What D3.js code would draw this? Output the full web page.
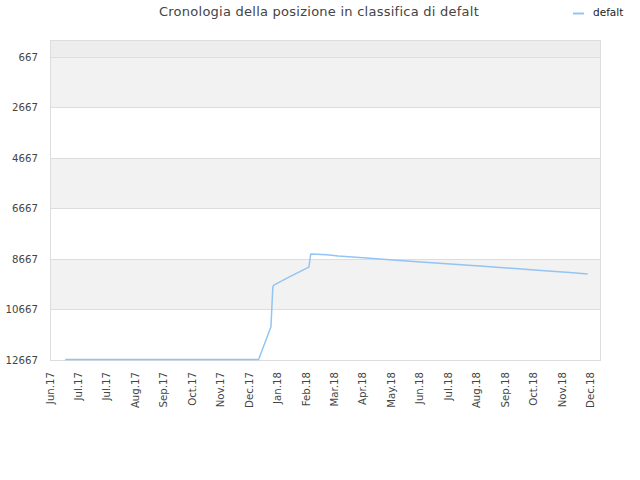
<!DOCTYPE html>
<html>
<head>
<meta charset="utf-8">
<script src="https://cdn.jsdelivr.net/npm/d3@7"></script>
<style>
  body { margin: 0; background: #fff; }
  svg { font-family: "DejaVu Sans", sans-serif; }
</style>
</head>
<body>
<svg id="chart" width="640" height="480"></svg>
<script>
// series: dates and rank positions
const dates = ['2017-06-17', '2018-01-07', '2018-01-20', '2018-01-22', '2018-01-23',
               '2018-02-10', '2018-03-01', '2018-03-03', '2018-03-20', '2018-04-01',
               '2018-05-01', '2018-06-01', '2018-07-01', '2018-08-01', '2018-09-01',
               '2018-10-01', '2018-11-01', '2018-12-01', '2018-12-20'];
const ranks = [12650, 12650, 11350, 9770, 9700,
               9350, 8990, 8470, 8500, 8550,
               8630, 8715, 8795, 8880, 8960,
               9040, 9125, 9205, 9260];

const yTicks = [667, 2667, 4667, 6667, 8667, 10667, 12667];
const xTickDates = ['2017-06-01', '2017-07-01', '2017-07-31', '2017-08-30', '2017-09-29',
                    '2017-10-29', '2017-11-28', '2017-12-28', '2018-01-27', '2018-02-26',
                    '2018-03-28', '2018-04-27', '2018-05-27', '2018-06-26', '2018-07-26',
                    '2018-08-25', '2018-09-24', '2018-10-24', '2018-11-23', '2018-12-23'];
const xTickLabels = ['Jun.17', 'Jul.17', 'Jul.17', 'Aug.17', 'Sep.17', 'Oct.17', 'Nov.17',
                     'Dec.17', 'Jan.18', 'Feb.18', 'Mar.18', 'Apr.18', 'May.18', 'Jun.18',
                     'Jul.18', 'Aug.18', 'Sep.18', 'Oct.18', 'Nov.18', 'Dec.18'];
const seriesName = 'defalt';
const title = 'Cronologia della posizione in classifica di defalt';

const parse = d3.utcParse('%Y-%m-%d');
let svg = d3.select('#chart');

let plot = { left: 50, right: 600, top: 40, bottom: 360 };

let x = d3.scaleUtc()
          .domain([parse('2017-06-01'), parse('2019-01-02')])
          .range([plot.left, plot.right]);

let y = d3.scaleLinear()
          .domain([0, 12667])
          .range([plot.top, plot.bottom]);

// background bands
let bands = [[0, 667, '#ededed']];
for (let i = 0; i < yTicks.length - 1; i++) {
    bands.push([yTicks[i], yTicks[i + 1], i % 2 === 0 ? '#f2f2f2' : '#ffffff']);
}

svg.append('g')
   .selectAll('rect')
   .data(bands)
   .enter()
   .append('rect')
   .attr('x', plot.left)
   .attr('width', plot.right - plot.left)
   .attr('y', d => y(d[0]))
   .attr('height', d => y(d[1]) - y(d[0]))
   .attr('fill', d => d[2]);

// horizontal grid lines
svg.append('g')
   .selectAll('line')
   .data(yTicks)
   .enter()
   .append('line')
   .attr('x1', plot.left)
   .attr('x2', plot.right)
   .attr('y1', d => Math.round(y(d)) + 0.5)
   .attr('y2', d => Math.round(y(d)) + 0.5)
   .attr('stroke', '#dddddd')
   .attr('stroke-width', 1);

// frame
svg.append('rect')
   .attr('x', plot.left + 0.5)
   .attr('y', plot.top + 0.5)
   .attr('width', plot.right - plot.left)
   .attr('height', plot.bottom - plot.top)
   .attr('fill', 'none')
   .attr('stroke', '#dddddd');

// y labels
svg.append('g')
   .selectAll('text')
   .data(yTicks)
   .enter()
   .append('text')
   .attr('x', 38)
   .attr('y', d => y(d) + 4)
   .attr('text-anchor', 'end')
   .attr('font-size', 10.2)
   .attr('fill', '#444')
   .text(d => d);

// x labels
svg.append('g')
   .selectAll('text')
   .data(xTickDates)
   .enter()
   .append('text')
   .attr('transform', d => `translate(${x(parse(d)) + 3.5},${plot.bottom + 12}) rotate(-90)`)
   .attr('text-anchor', 'end')
   .attr('font-size', 10.2)
   .attr('fill', '#444')
   .text((d, i) => xTickLabels[i]);

// series line
let line = d3.line()
             .x(d => x(parse(d[0])))
             .y(d => y(d[1]));

svg.append('path')
   .datum(dates.map((d, i) => [d, ranks[i]]))
   .attr('d', line)
   .attr('fill', 'none')
   .attr('stroke', '#94c4f4')
   .attr('stroke-width', 1.5)
   .attr('stroke-linejoin', 'round');

// title
svg.append('text')
   .attr('x', 319)
   .attr('y', 16)
   .attr('text-anchor', 'middle')
   .attr('font-size', 13)
   .attr('letter-spacing', 0.25)
   .attr('fill', '#444')
   .text(title);

// legend
svg.append('line')
   .attr('x1', 573)
   .attr('x2', 584)
   .attr('y1', 13.5)
   .attr('y2', 13.5)
   .attr('stroke', '#94c4f4')
   .attr('stroke-width', 2);

svg.append('text')
   .attr('x', 593)
   .attr('y', 16)
   .attr('font-size', 10.5)
   .attr('fill', '#222')
   .text(seriesName);
</script>
</body>
</html>
